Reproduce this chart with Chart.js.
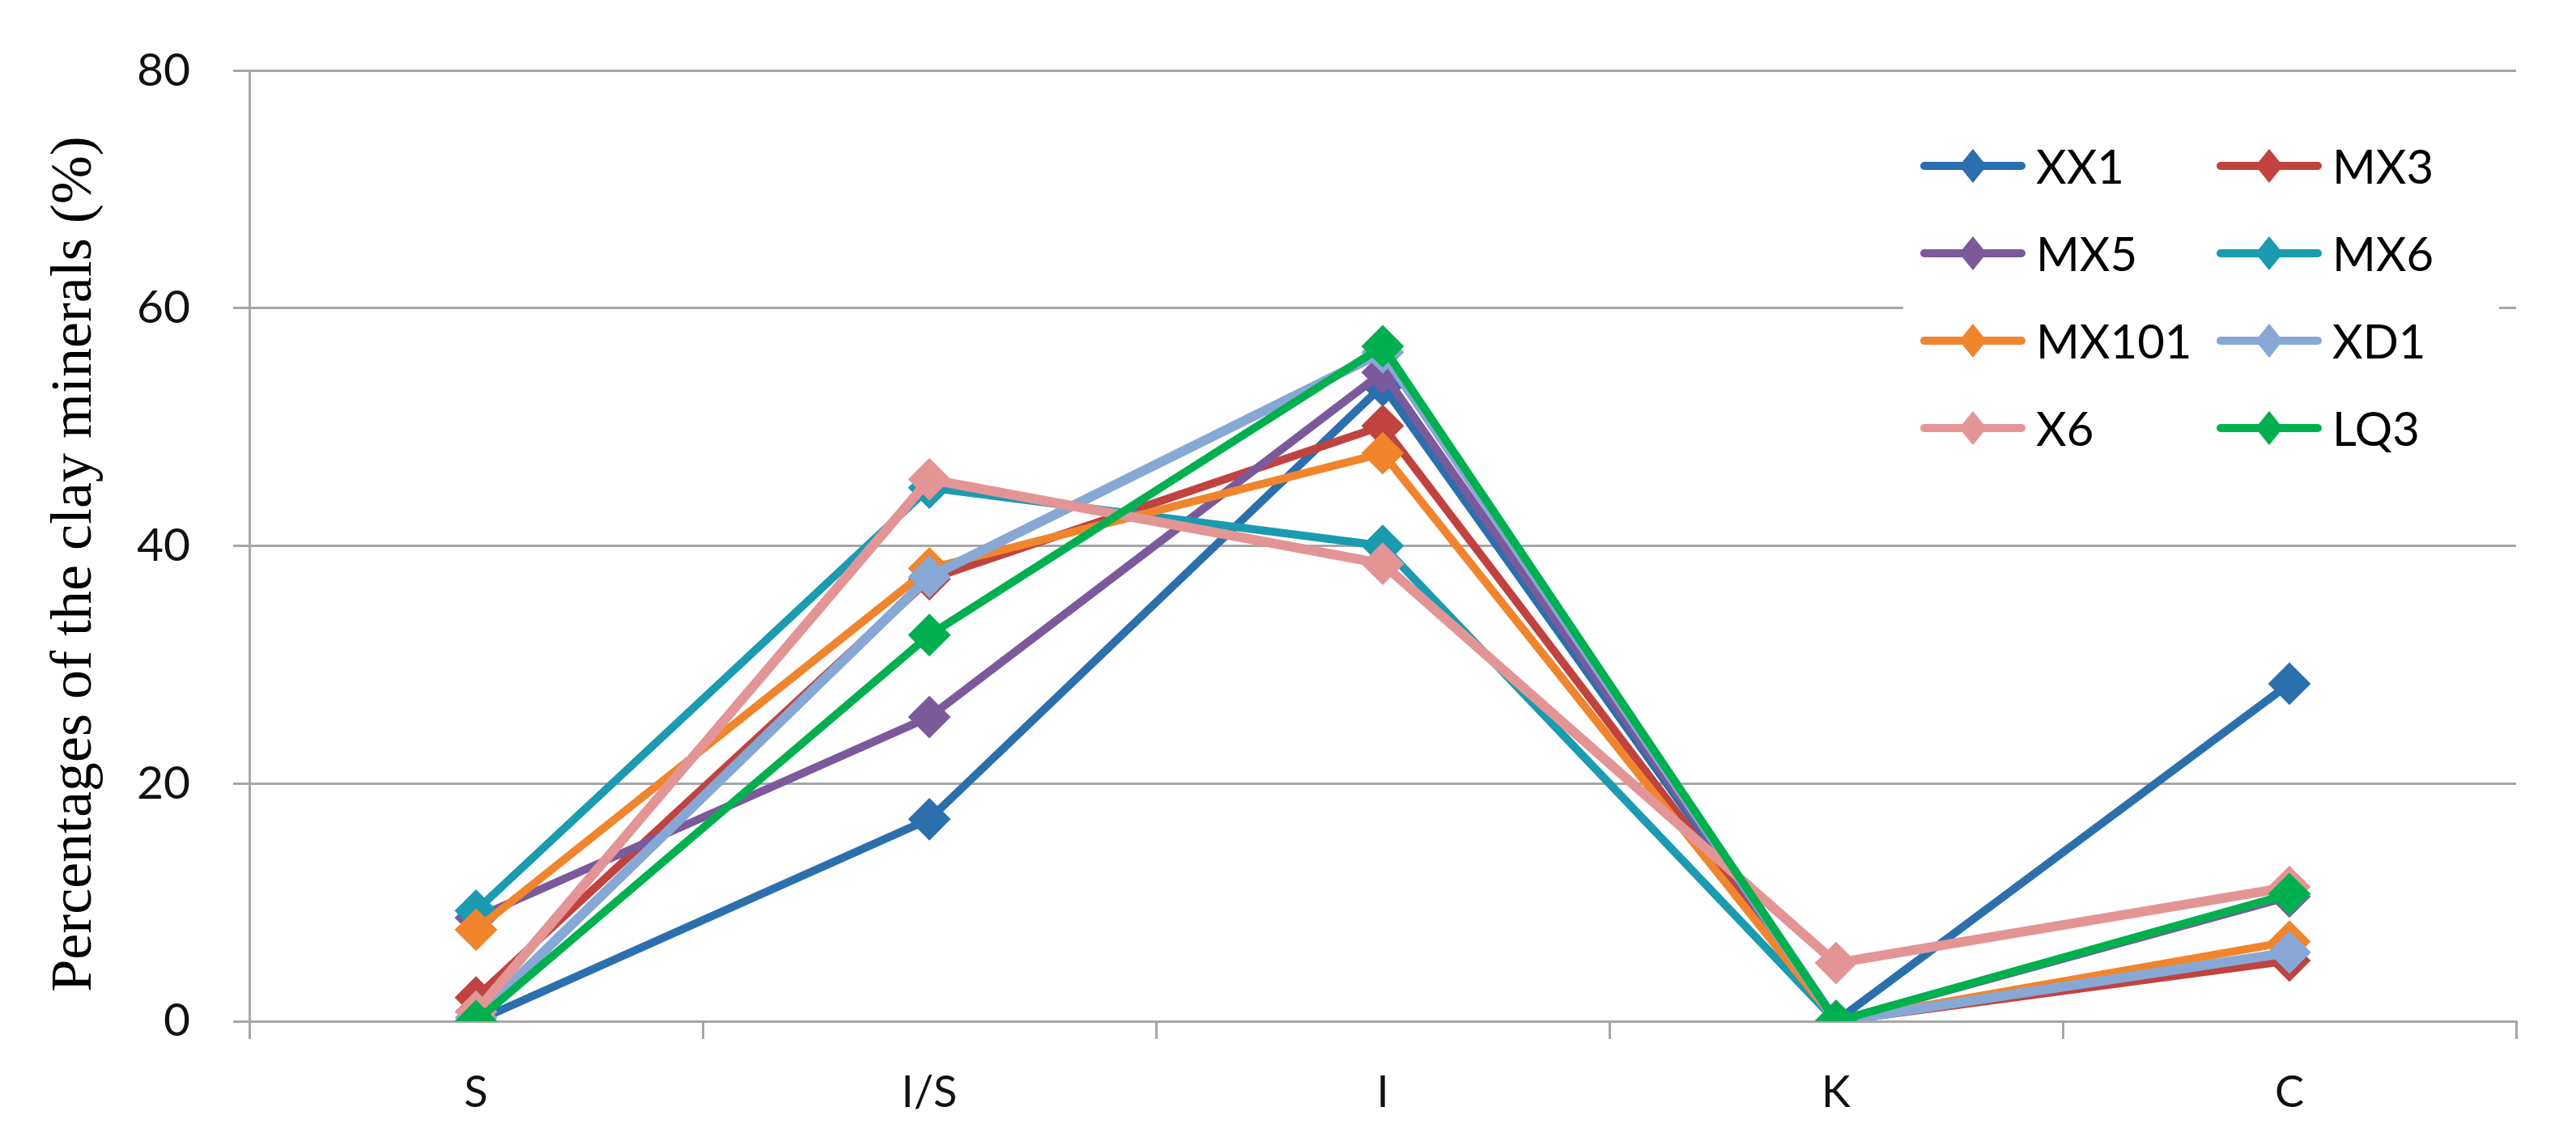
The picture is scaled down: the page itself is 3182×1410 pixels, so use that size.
<!DOCTYPE html>
<html>
<head>
<meta charset="utf-8">
<script src="https://cdn.jsdelivr.net/npm/chart.js@4.4.1/dist/chart.umd.min.js"></script>
<style>
  html, body { margin: 0; padding: 0; background: #fff; }
  canvas { display: block; }
</style>
</head>
<body>
<canvas id="c" width="3182" height="1410"></canvas>
<script>
// ---- data ----
const categories = ['S', 'I/S', 'I', 'K', 'C'];
const seriesNames = ['XX1', 'MX3', 'MX5', 'MX6', 'MX101', 'XD1', 'X6', 'LQ3'];
const XX1   = [0,   17.0, 53.5, 0,   28.4];
const MX3   = [2.0, 37.2, 50.1, 0,   5.1];
const MX5   = [8.7, 25.6, 54.6, 0,   10.5];
const MX6   = [9.3, 44.9, 40.0, 0,   5.8];
const MX101 = [7.7, 38.1, 47.8, 0,   6.7];
const XD1   = [0.3, 37.4, 56.3, 0,   5.8];
const X6    = [0.8, 45.6, 38.5, 4.9, 11.3];
const LQ3   = [0,   32.5, 56.8, 0,   10.7];
const yTicks = [0, 20, 40, 60, 80];
const yTitle = 'Percentages of the clay minerals (%)';

const seriesValues = [XX1, MX3, MX5, MX6, MX101, XD1, X6, LQ3];
const colors = ['#2c6fad', '#c0433f', '#7b5a9c', '#1a9bb0', '#f0852d', '#87a8d5', '#e39596', '#00b04f'];
const widths = [10, 10, 10, 10, 10, 12, 12, 10];

const GRID = '#a6a6a6';

const datasets = seriesNames.map((name, i) => ({
  label: name,
  data: seriesValues[i],
  borderColor: colors[i],
  backgroundColor: colors[i],
  borderWidth: widths[i],
  pointStyle: 'rectRot',
  pointRadius: 25,
  pointBorderWidth: 2,
  pointBackgroundColor: colors[i],
  pointBorderColor: colors[i],
  tension: 0,
  fill: false,
  order: seriesNames.length - i
}));

const legendPlugin = {
  id: 'customLegend',
  afterDraw(chart) {
    const ctx = chart.ctx;
    const ca = chart.chartArea;
    const boxLeft = ca.right - 757, boxTop = 150, boxW = 736, boxH = 450;
    ctx.save();
    ctx.fillStyle = '#ffffff';
    ctx.fillRect(boxLeft, boxTop, boxW, boxH);
    const colX = [boxLeft + 21, boxLeft + 387];
    const rowY0 = 205, rowGap = 108;
    ctx.font = '58px Lato';
    ctx.textBaseline = 'middle';
    chart.data.datasets.forEach((ds, i) => {
      const col = i % 2, row = Math.floor(i / 2);
      const x = colX[col], y = rowY0 + row * rowGap;
      ctx.strokeStyle = ds.borderColor;
      ctx.lineWidth = 10;
      ctx.lineCap = 'round';
      ctx.beginPath();
      ctx.moveTo(x + 5, y);
      ctx.lineTo(x + 125, y);
      ctx.stroke();
      ctx.fillStyle = ds.borderColor;
      ctx.beginPath();
      ctx.moveTo(x + 65, y - 21);
      ctx.lineTo(x + 82, y);
      ctx.lineTo(x + 65, y + 21);
      ctx.lineTo(x + 48, y);
      ctx.closePath();
      ctx.fill();
      ctx.fillStyle = '#000';
      ctx.fillText(ds.label, x + 143, y + 3);
    });
    ctx.restore();
  }
};

const yTitlePlugin = {
  id: 'yTitle',
  afterDraw(chart) {
    const ctx = chart.ctx;
    ctx.save();
    ctx.translate(93, 697);
    ctx.rotate(-Math.PI / 2);
    ctx.font = '72px "Liberation Serif"';
    ctx.fillStyle = '#000';
    ctx.textAlign = 'center';
    ctx.textBaseline = 'middle';
    ctx.fillText(yTitle, 0, 0);
    ctx.restore();
  }
};

new Chart(document.getElementById('c'), {
  type: 'line',
  data: { labels: categories, datasets },
  options: {
    responsive: false,
    animation: false,
    devicePixelRatio: 1,
    layout: { padding: { top: 83, right: 74, left: 0, bottom: 0 } },
    plugins: { legend: { display: false }, tooltip: { enabled: false } },
    scales: {
      x: {
        offset: true,
        grid: {
          offset: true,
          drawOnChartArea: true,
          drawTicks: true,
          tickLength: 22,
          lineWidth: 3,
          color: (c) => (c.index === 0 || c.index === categories.length) ? GRID : 'rgba(0,0,0,0)',
          tickColor: GRID,
          tickWidth: 3
        },
        border: { display: true, color: GRID, width: 3 },
        ticks: {
          font: { family: 'Lato', size: 54 },
          color: '#111',
          padding: 34,
          maxRotation: 0
        },
        afterFit: (s) => { s.height = 148; }
      },
      y: {
        min: 0,
        max: 80,
        afterBuildTicks: (s) => { s.ticks = yTicks.map(v => ({ value: v })); },
        grid: {
          color: GRID,
          lineWidth: 3,
          tickLength: 20,
          tickColor: GRID
        },
        border: { display: true, color: GRID, width: 3 },
        ticks: {
          font: { family: 'Lato', size: 57 },
          color: '#111',
          padding: 53
        },
        title: { display: false, text: yTitle },
        afterFit: (s) => { s.width = 308; }
      }
    }
  },
  plugins: [legendPlugin, yTitlePlugin]
});
</script>
</body>
</html>
